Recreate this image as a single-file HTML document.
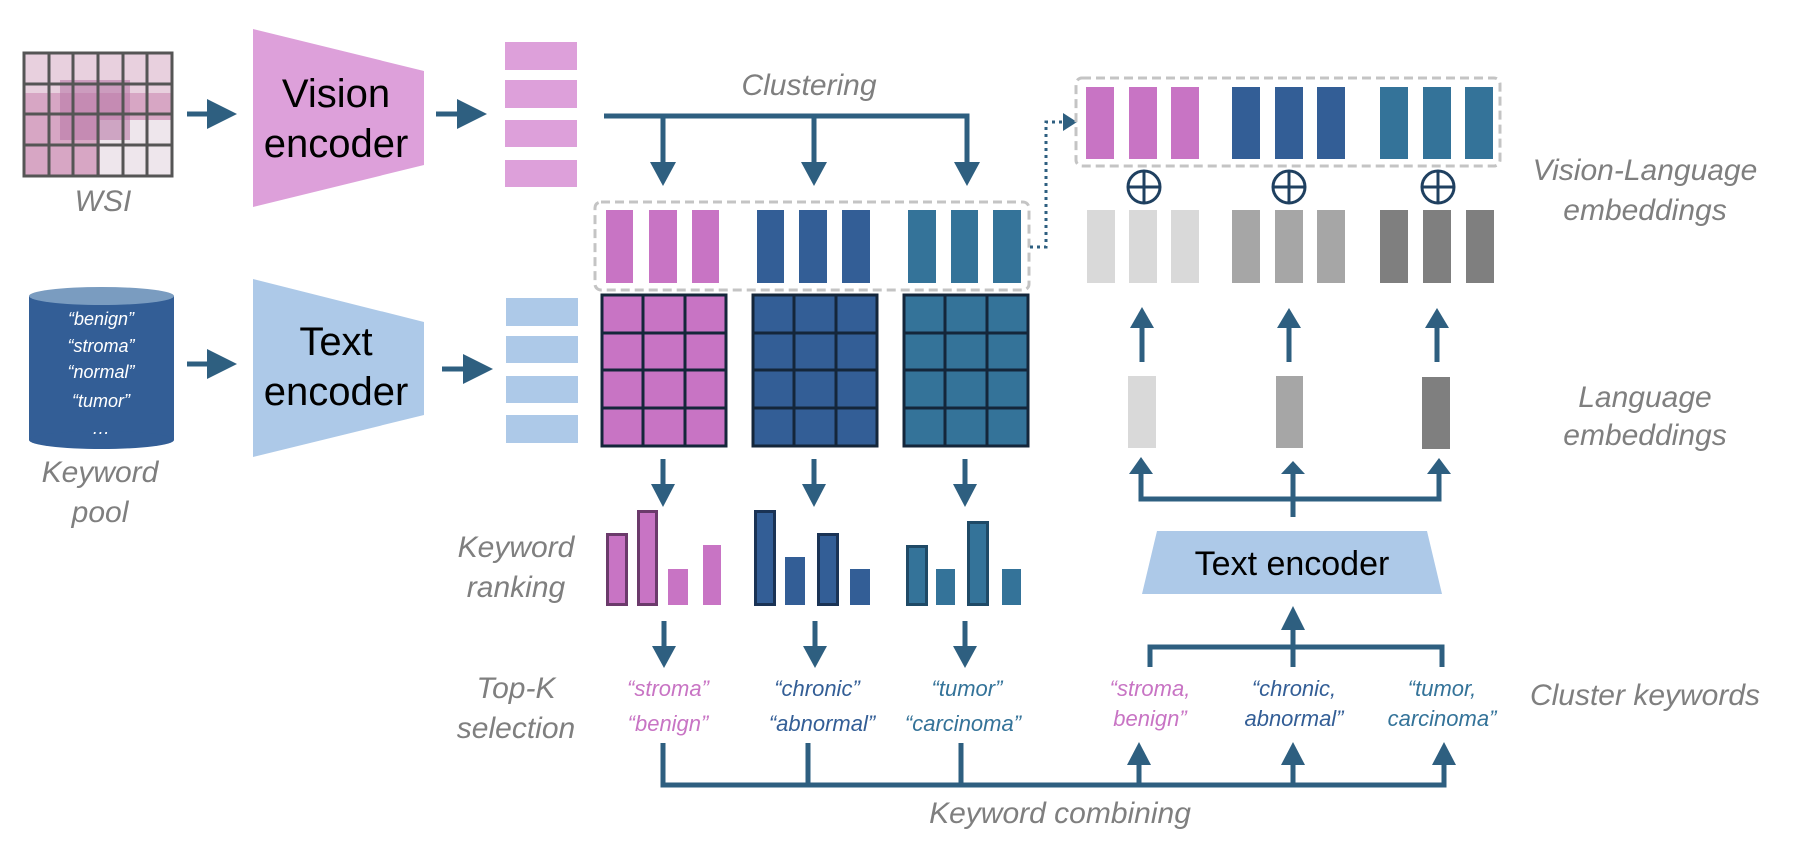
<!DOCTYPE html>
<html><head><meta charset="utf-8"><style>
html,body{margin:0;padding:0;background:#fff;}
svg{display:block;}
text{font-family:"Liberation Sans",sans-serif;}
.g{fill:#7f7f7f;font-style:italic;font-size:30px;text-anchor:middle;}
.k{font-style:italic;font-size:22px;text-anchor:middle;}
</style></head><body>
<svg width="1818" height="860" viewBox="0 0 1818 860" xmlns="http://www.w3.org/2000/svg">
<defs>
<marker id="ah" markerWidth="6" markerHeight="6" refX="5" refY="3" orient="auto" markerUnits="strokeWidth">
<path d="M0,0 L6,3 L0,6 z" fill="#2e5f80"/></marker>
</defs>
<!-- WSI -->
<rect x="24" y="53" width="148" height="123" fill="#d7a6c4"/>
<rect x="24" y="53" width="148" height="40" fill="#e8d0de"/>
<rect x="100" y="120" width="72" height="56" fill="#eee6ec"/>
<rect x="60" y="80" width="70" height="60" fill="#b97aa8" opacity="0.6"/>
<g stroke="#555" stroke-width="3" fill="none">
<rect x="24" y="53" width="148" height="123"/>
<line x1="49" y1="53" x2="49" y2="176"/><line x1="73" y1="53" x2="73" y2="176"/><line x1="98" y1="53" x2="98" y2="176"/><line x1="123" y1="53" x2="123" y2="176"/><line x1="147" y1="53" x2="147" y2="176"/>
<line x1="24" y1="84" x2="172" y2="84"/><line x1="24" y1="114" x2="172" y2="114"/><line x1="24" y1="145" x2="172" y2="145"/>
</g>
<text class="g" x="103" y="211">WSI</text>
<!-- arrows left -->
<g stroke="#2e5f80" stroke-width="5" fill="none" marker-end="url(#ah)">
<line x1="187" y1="114" x2="232" y2="114"/>
<line x1="436" y1="114" x2="482" y2="114"/>
<line x1="187" y1="364" x2="232" y2="364"/>
<line x1="442" y1="369" x2="488" y2="369"/>
</g>
<!-- Vision encoder -->
<polygon points="253,29 424,71 424,165 253,207" fill="#dda0da"/>
<text x="336" y="107" font-size="40" text-anchor="middle">Vision</text>
<text x="336" y="157" font-size="40" text-anchor="middle">encoder</text>
<g fill="#dda0da"><rect x="505" y="42" width="72" height="28"/><rect x="505" y="80" width="72" height="28"/><rect x="505" y="120" width="72" height="27"/><rect x="505" y="160" width="72" height="27"/></g>
<!-- Cylinder -->
<rect x="29" y="296" width="145" height="144" fill="#335e96"/>
<ellipse cx="101.5" cy="440" rx="72.5" ry="9" fill="#335e96"/>
<ellipse cx="101.5" cy="296" rx="72.5" ry="9" fill="#7a9cc0"/>
<g fill="#fff" font-style="italic" font-size="18" text-anchor="middle">
<text x="101" y="325">“benign”</text><text x="101" y="352">“stroma”</text><text x="101" y="378">“normal”</text><text x="101" y="407">“tumor”</text><text x="101" y="434">…</text></g>
<text class="g" x="100" y="482">Keyword</text>
<text class="g" x="100" y="522">pool</text>
<!-- Text encoder -->
<polygon points="253,279 424,322 424,415 253,457" fill="#adc9e8"/>
<text x="336" y="355" font-size="40" text-anchor="middle">Text</text>
<text x="336" y="405" font-size="40" text-anchor="middle">encoder</text>
<g fill="#adc9e8"><rect x="506" y="298" width="72" height="28"/><rect x="506" y="336" width="72" height="27"/><rect x="506" y="376" width="72" height="27"/><rect x="506" y="415" width="72" height="28"/></g>
<!-- Clustering -->
<text class="g" x="809" y="95">Clustering</text>
<g stroke="#2e5f80" stroke-width="5" fill="none">
<polyline points="604,116 967,116 967,170"/>
<line x1="663" y1="116" x2="663" y2="170"/>
<line x1="814" y1="116" x2="814" y2="170"/>
</g>
<g fill="#2e5f80">
<polygon points="650,162 676,162 663,186"/><polygon points="801,162 827,162 814,186"/><polygon points="954,162 980,162 967,186"/>
</g>
<!-- dashed box vision clusters -->
<rect x="595" y="202" width="434" height="88" rx="6" fill="none" stroke="#c4c4c4" stroke-width="3" stroke-dasharray="9,5"/>
<g fill="#c874c4"><rect x="606" y="210" width="27" height="73"/><rect x="649" y="210" width="28" height="73"/><rect x="692" y="210" width="27" height="73"/></g>
<g fill="#335e96"><rect x="757" y="210" width="27" height="73"/><rect x="799" y="210" width="28" height="73"/><rect x="842" y="210" width="28" height="73"/></g>
<g fill="#347399"><rect x="908" y="210" width="28" height="73"/><rect x="951" y="210" width="27" height="73"/><rect x="993" y="210" width="28" height="73"/></g>
<!-- dotted connector -->
<polyline points="1030,247 1046,247 1046,122 1066,122" fill="none" stroke="#2e5f80" stroke-width="3" stroke-dasharray="3,4"/>
<polygon points="1063,113 1077,122 1063,131" fill="#2e5f80"/>
<!-- matrices -->
<g stroke="#14263a" stroke-width="3">
<rect x="602" y="295" width="124" height="151" fill="#c874c4"/>
<rect x="753" y="295" width="124" height="151" fill="#335e96"/>
<rect x="904" y="295" width="124" height="151" fill="#347399"/>
<path d="M643,295V446M685,295V446M602,333H726M602,370H726M602,408H726" fill="none"/>
<path d="M794,295V446M836,295V446M753,333H877M753,370H877M753,408H877" fill="none"/>
<path d="M945,295V446M987,295V446M904,333H1028M904,370H1028M904,408H1028" fill="none"/>
</g>
<!-- down arrows -->
<g stroke="#2e5f80" stroke-width="5"><line x1="663" y1="459" x2="663" y2="490"/><line x1="814" y1="459" x2="814" y2="490"/><line x1="965" y1="459" x2="965" y2="490"/>
<line x1="664" y1="621" x2="664" y2="652"/><line x1="815" y1="621" x2="815" y2="652"/><line x1="965" y1="621" x2="965" y2="652"/></g>
<g fill="#2e5f80"><polygon points="651,484 675,484 663,507"/><polygon points="802,484 826,484 814,507"/><polygon points="953,484 977,484 965,507"/>
<polygon points="652,646 676,646 664,668"/><polygon points="803,646 827,646 815,668"/><polygon points="953,646 977,646 965,668"/></g>
<!-- ranking -->
<text class="g" x="516" y="557">Keyword</text>
<text class="g" x="516" y="597">ranking</text>
<rect x="607.5" y="534.5" width="19" height="70" fill="#c874c4" stroke="#6b3a6b" stroke-width="3"/>
<rect x="638.5" y="511.5" width="18" height="93" fill="#c874c4" stroke="#6b3a6b" stroke-width="3"/>
<rect x="668" y="569" width="20" height="36" fill="#c874c4"/><rect x="703" y="545" width="18" height="60" fill="#c874c4"/>
<rect x="755.5" y="511.5" width="19" height="93" fill="#335e96" stroke="#1a3355" stroke-width="3"/>
<rect x="785" y="557" width="20" height="48" fill="#335e96"/>
<rect x="818.5" y="534.5" width="19" height="70" fill="#335e96" stroke="#1a3355" stroke-width="3"/>
<rect x="850" y="569" width="20" height="36" fill="#335e96"/>
<rect x="907.5" y="546.5" width="19" height="58" fill="#347399" stroke="#1f4a66" stroke-width="3"/>
<rect x="936" y="569" width="19" height="36" fill="#347399"/>
<rect x="968.5" y="522.5" width="19" height="82" fill="#347399" stroke="#1f4a66" stroke-width="3"/>
<rect x="1002" y="569" width="19" height="36" fill="#347399"/>
<!-- top-K -->
<text class="g" x="516" y="698">Top-K</text>
<text class="g" x="516" y="738">selection</text>
<g class="k"><text class="k" x="668" y="696" fill="#c874c4">“stroma”</text><text class="k" x="668" y="731" fill="#c874c4">“benign”</text>
<text class="k" x="817" y="696" fill="#335e96">“chronic”</text><text class="k" x="822" y="731" fill="#335e96">“abnormal”</text>
<text class="k" x="967" y="696" fill="#347399">“tumor”</text><text class="k" x="963" y="731" fill="#347399">“carcinoma”</text></g>
<!-- bottom combining -->
<g stroke="#2e5f80" stroke-width="5" fill="none">
<polyline points="663,743 663,785 1444,785 1444,758"/>
<line x1="808" y1="743" x2="808" y2="785"/><line x1="961" y1="743" x2="961" y2="785"/>
<line x1="1139" y1="785" x2="1139" y2="758"/><line x1="1293" y1="785" x2="1293" y2="758"/>
</g>
<g fill="#2e5f80"><polygon points="1127,765 1151,765 1139,742"/><polygon points="1281,765 1305,765 1293,742"/><polygon points="1432,765 1456,765 1444,742"/></g>
<text class="g" x="1060" y="823">Keyword combining</text>
<!-- cluster keywords -->
<text class="k" x="1150" y="696" fill="#c874c4">“stroma,</text><text class="k" x="1150" y="726" fill="#c874c4">benign”</text>
<text class="k" x="1294" y="696" fill="#335e96">“chronic,</text><text class="k" x="1294" y="726" fill="#335e96">abnormal”</text>
<text class="k" x="1442" y="696" fill="#347399">“tumor,</text><text class="k" x="1442" y="726" fill="#347399">carcinoma”</text>
<text class="g" x="1645" y="705">Cluster keywords</text>
<!-- bracket to text encoder -->
<g stroke="#2e5f80" stroke-width="5" fill="none">
<polyline points="1150,667 1150,647 1442,647 1442,667"/>
<line x1="1293" y1="667" x2="1293" y2="622"/>
<polyline points="1141,472 1141,499 1439,499 1439,472"/>
<line x1="1293" y1="517" x2="1293" y2="472"/>
<line x1="1142" y1="362" x2="1142" y2="322"/><line x1="1289" y1="362" x2="1289" y2="322"/><line x1="1437" y1="362" x2="1437" y2="322"/>
</g>
<g fill="#2e5f80"><polygon points="1281,630 1305,630 1293,606"/>
<polygon points="1129,474 1153,474 1141,457"/><polygon points="1281,474 1305,474 1293,461"/><polygon points="1427,474 1451,474 1439,458"/>
<polygon points="1130,328 1154,328 1142,307"/><polygon points="1277,328 1301,328 1289,308"/><polygon points="1425,328 1449,328 1437,308"/></g>
<polygon points="1157,531 1427,531 1442,594 1142,594" fill="#adc9e8"/>
<text x="1292" y="575" font-size="34" text-anchor="middle">Text encoder</text>
<!-- language embeddings -->
<rect x="1128" y="376" width="28" height="72" fill="#d9d9d9"/>
<rect x="1276" y="376" width="27" height="72" fill="#a6a6a6"/>
<rect x="1422" y="377" width="28" height="72" fill="#7f7f7f"/>
<text class="g" x="1645" y="407">Language</text>
<text class="g" x="1645" y="445">embeddings</text>
<!-- gray bars -->
<g fill="#d9d9d9"><rect x="1087" y="210" width="28" height="73"/><rect x="1129" y="210" width="28" height="73"/><rect x="1171" y="210" width="28" height="73"/></g>
<g fill="#a6a6a6"><rect x="1232" y="210" width="28" height="73"/><rect x="1275" y="210" width="28" height="73"/><rect x="1317" y="210" width="28" height="73"/></g>
<g fill="#7f7f7f"><rect x="1380" y="210" width="28" height="73"/><rect x="1423" y="210" width="28" height="73"/><rect x="1466" y="210" width="28" height="73"/></g>
<!-- plus circles -->
<g stroke="#1f4060" stroke-width="3" fill="none">
<circle cx="1144" cy="187" r="16"/><path d="M1128,187H1160M1144,171V203"/>
<circle cx="1289" cy="187" r="16"/><path d="M1273,187H1305M1289,171V203"/>
<circle cx="1438" cy="187" r="16"/><path d="M1422,187H1454M1438,171V203"/>
</g>
<!-- top dashed box VL -->
<rect x="1076" y="78" width="424" height="88" rx="6" fill="none" stroke="#c4c4c4" stroke-width="3" stroke-dasharray="9,5"/>
<g fill="#c874c4"><rect x="1086" y="87" width="28" height="72"/><rect x="1129" y="87" width="28" height="72"/><rect x="1171" y="87" width="28" height="72"/></g>
<g fill="#335e96"><rect x="1232" y="87" width="28" height="72"/><rect x="1275" y="87" width="28" height="72"/><rect x="1317" y="87" width="28" height="72"/></g>
<g fill="#347399"><rect x="1380" y="87" width="28" height="72"/><rect x="1423" y="87" width="28" height="72"/><rect x="1465" y="87" width="28" height="72"/></g>
<text class="g" x="1645" y="180">Vision-Language</text>
<text class="g" x="1645" y="220">embeddings</text>
</svg>
</body></html>
